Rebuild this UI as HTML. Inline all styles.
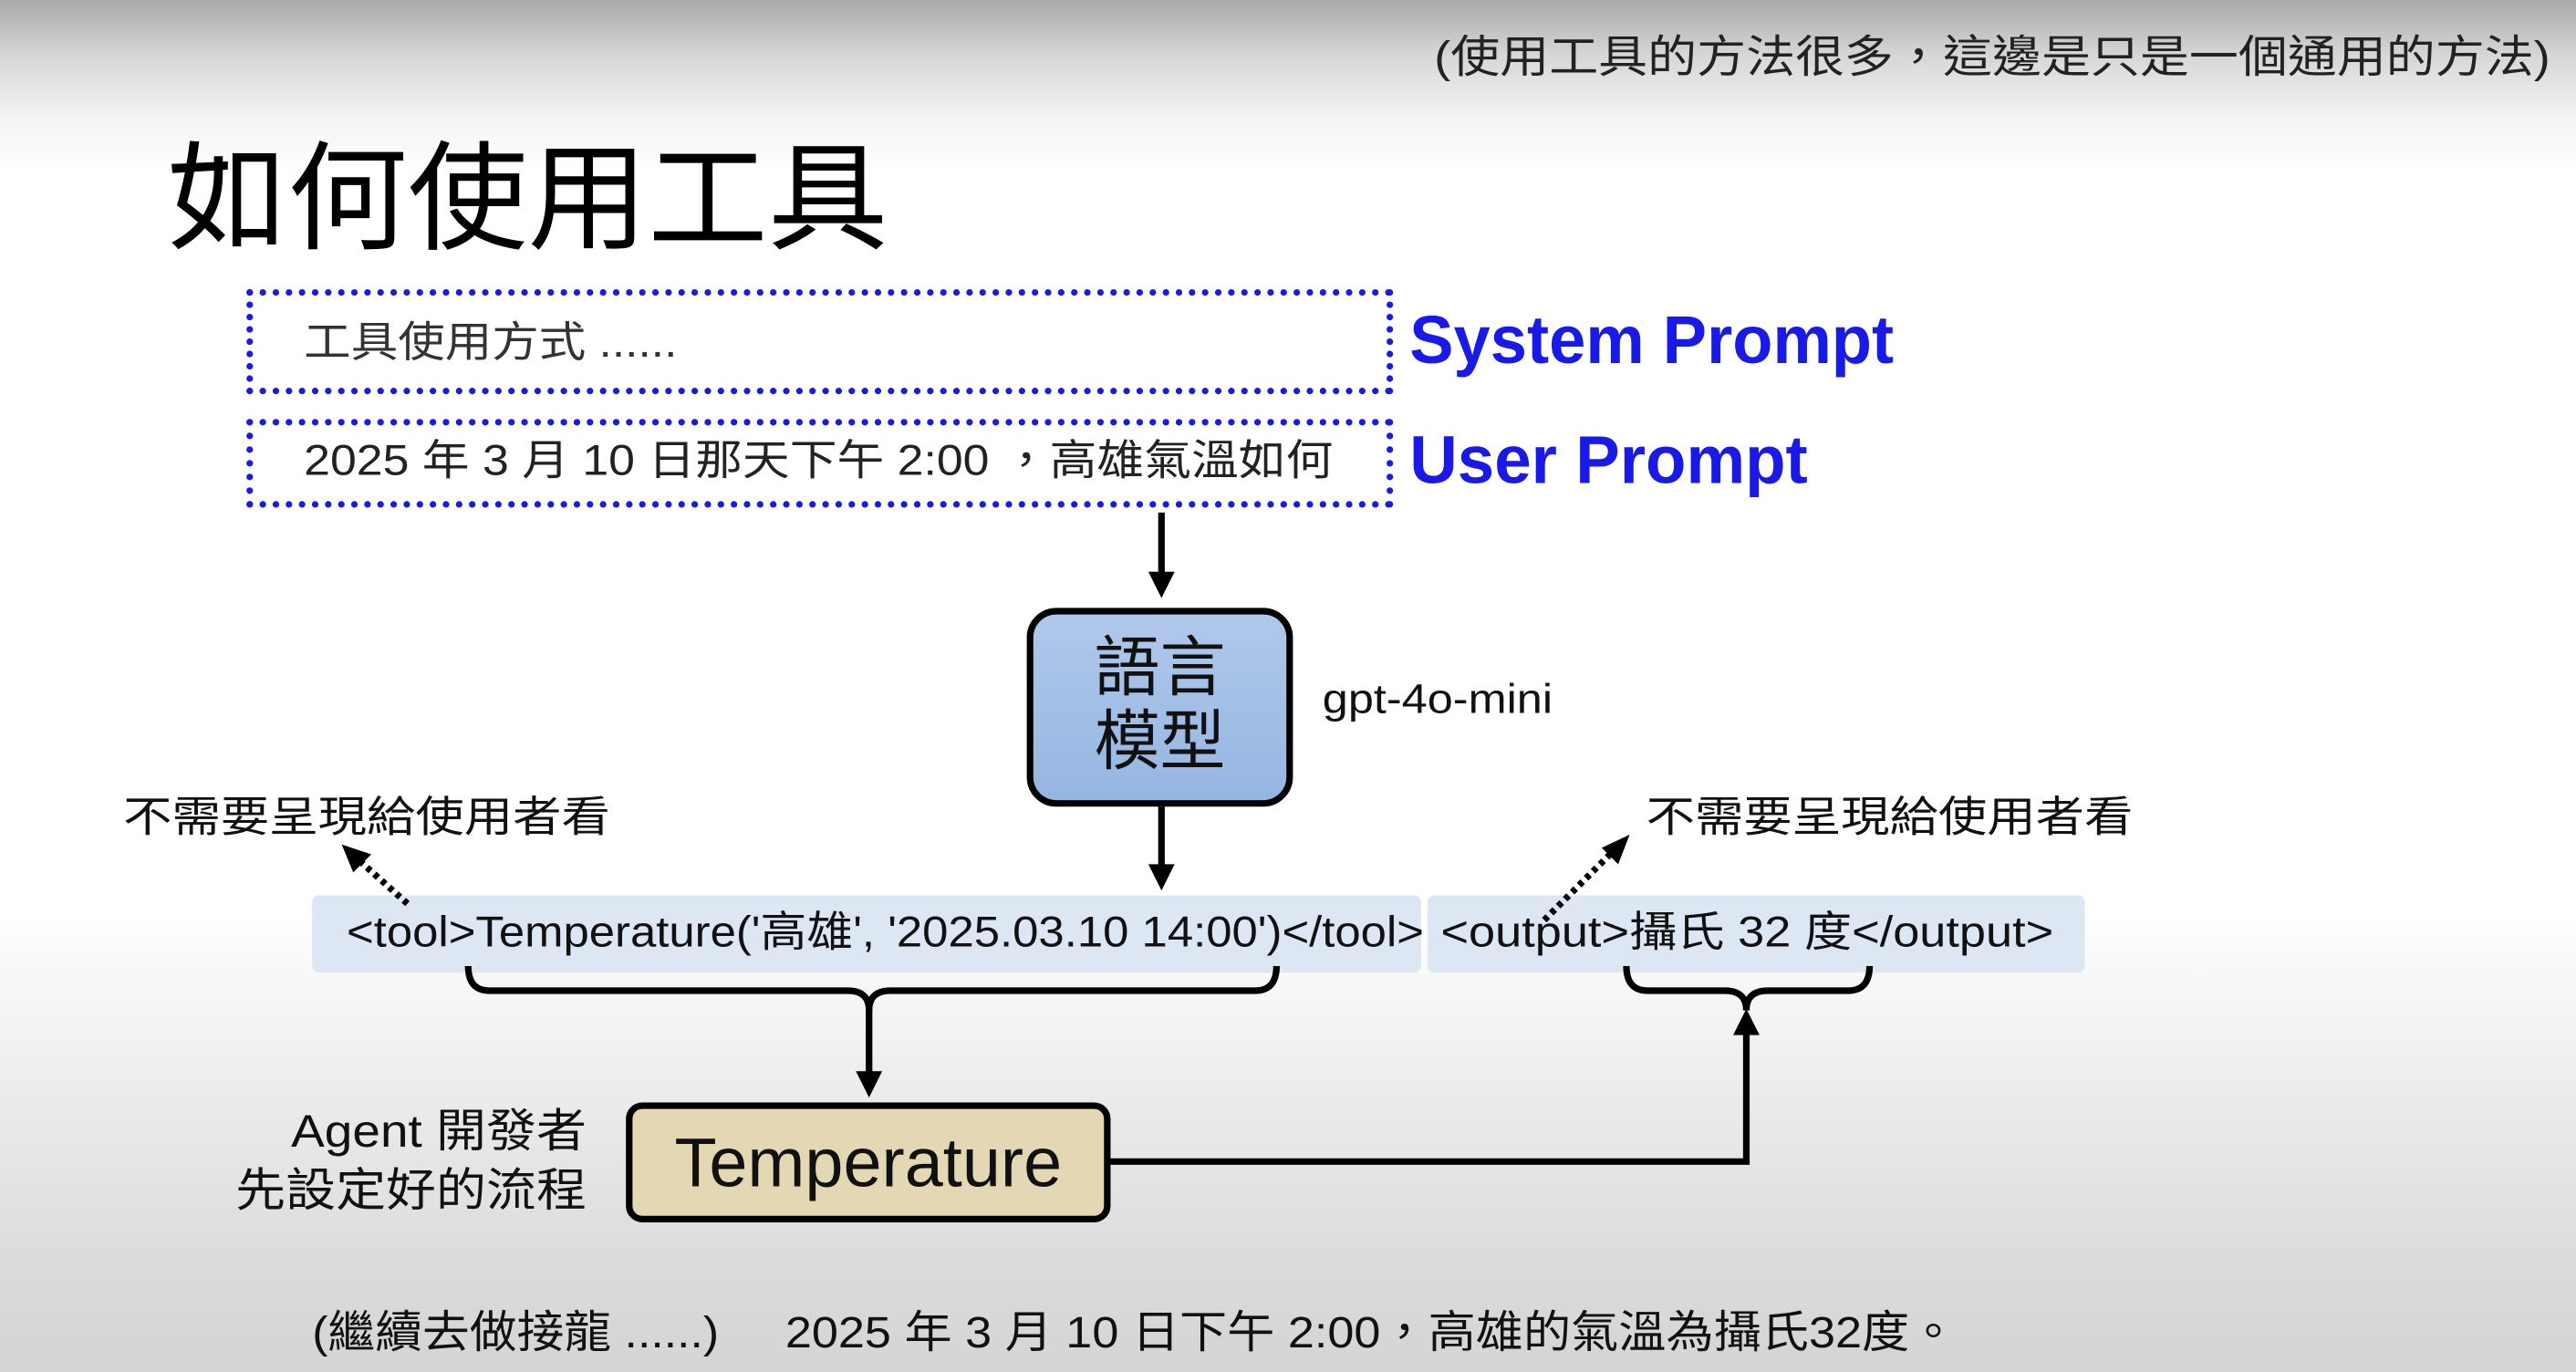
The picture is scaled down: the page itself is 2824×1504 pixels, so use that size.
<!DOCTYPE html>
<html><head><meta charset="utf-8"><style>
html,body{margin:0;padding:0;}
body{width:2824px;height:1504px;overflow:hidden;position:relative;
background:linear-gradient(to bottom,#a9a9a9 0px,#d6d6d6 60px,#f4f4f4 130px,#fff 190px,#fff 1000px,#f0f0f0 1150px,#dcdcdc 1380px,#d4d4d4 1504px);}
#s{position:absolute;left:0;top:0;width:1568px;height:835px;transform:scale(1.801);transform-origin:0 0;
font-family:"Liberation Sans","Noto Sans CJK TC",sans-serif;color:#111;}
.t{position:absolute;white-space:nowrap;line-height:1;transform-origin:0 50%;}
.dot{position:absolute;border:4px dotted #1a1ae0;box-sizing:border-box;}
</style></head><body><div id="s">
<div class="t" style="left:873px;top:22px;font-size:27px;color:#222;transform:scaleX(1.11);">(使用工具的方法很多，這邊是只是一個通用的方法)</div>
<div class="t" style="left:102px;top:86px;font-size:72px;color:#000;transform:scaleX(1.015);">如何使用工具</div>

<div class="dot" style="left:150px;top:176px;width:698px;height:64px;"></div>
<div class="t" style="left:185px;top:195px;font-size:26px;color:#333;transform:scaleX(1.1);">工具使用方式 ......</div>
<div class="t" style="left:858px;top:187px;font-size:41px;font-weight:bold;color:#1a1ae6;transform:scaleX(0.98);">System Prompt</div>

<div class="dot" style="left:150px;top:255px;width:698px;height:54px;"></div>
<div class="t" style="left:185px;top:267px;font-size:26px;color:#222;transform:scaleX(1.106);">2025 年 3 月 10 日那天下午 2:00 ，高雄氣溫如何</div>
<div class="t" style="left:858px;top:260px;font-size:41px;font-weight:bold;color:#1a1ae6;transform:scaleX(0.985);">User Prompt</div>

<div style="position:absolute;left:625px;top:370px;width:162px;height:121px;box-sizing:border-box;border:4px solid #000;border-radius:18px;background:linear-gradient(#b0c8ea,#95b6e2);"></div>
<div class="t" style="left:625px;top:385px;width:162px;text-align:center;font-size:40px;line-height:45px;">語言<br>模型</div>
<div class="t" style="left:805px;top:414px;font-size:25px;transform:scaleX(1.12);">gpt-4o-mini</div>

<div class="t" style="left:75px;top:484px;font-size:26px;transform:scaleX(1.14);">不需要呈現給使用者看</div>
<div class="t" style="left:1002px;top:484px;font-size:26px;transform:scaleX(1.14);">不需要呈現給使用者看</div>

<div style="position:absolute;left:190px;top:545px;width:675px;height:47px;background:#dde6f3;border-radius:4px;"></div>
<div style="position:absolute;left:869px;top:545px;width:400px;height:47px;background:#dde6f3;border-radius:4px;"></div>
<div class="t" style="left:211px;top:554px;font-size:26px;transform:scaleX(1.086);">&lt;tool&gt;Temperature('高雄', '2025.03.10 14:00')&lt;/tool&gt;</div>
<div class="t" style="left:877px;top:554px;font-size:26px;transform:scaleX(1.117);">&lt;output&gt;攝氏 32 度&lt;/output&gt;</div>

<div style="position:absolute;left:381px;top:671px;width:295px;height:73px;box-sizing:border-box;border:4px solid #000;border-radius:10px;background:#e3d7b4;"></div>
<div class="t" style="left:381px;top:687px;width:295px;text-align:center;font-size:42px;">Temperature</div>
<div class="t" style="left:100px;top:671px;width:257px;text-align:right;font-size:28px;line-height:36px;transform-origin:100% 50%;transform:scaleX(1.09);">Agent 開發者<br>先設定好的流程</div>

<div class="t" style="left:190px;top:798px;font-size:27px;transform:scaleX(1.065);">(繼續去做接龍 ......)</div>
<div class="t" style="left:478px;top:798px;font-size:27px;transform:scaleX(1.073);">2025 年 3 月 10 日下午 2:00，高雄的氣溫為攝氏32度。</div>

<svg width="1568" height="835" style="position:absolute;left:0;top:0;" xmlns="http://www.w3.org/2000/svg">
<g stroke="#000" stroke-width="4" fill="none">
<line x1="707" y1="312" x2="707" y2="350"/>
<line x1="707" y1="491" x2="707" y2="528"/>
<path d="M285 588 Q285 603 298 603 L516 603 Q529 603 529 615 Q529 603 542 603 L764 603 Q777 603 777 588"/>
<line x1="529" y1="612" x2="529" y2="654"/>
<path d="M990 588 Q990 603 1003 603 L1050 603 Q1063 603 1063 615 Q1063 603 1076 603 L1125 603 Q1138 603 1138 588"/>
<polyline points="676,707 1063,707 1063,628"/>
<line x1="248" y1="550" x2="220" y2="525" stroke-dasharray="3 3"/>
<line x1="940" y1="560" x2="980" y2="520" stroke-dasharray="3 3"/>
</g>
<g fill="#000">
<polygon points="699,348 715,348 707,364"/>
<polygon points="699,526 715,526 707,542"/>
<polygon points="521,652 537,652 529,668"/>
<polygon points="1055,630 1071,630 1063,614"/>
<polygon points="208,514 226,520 215,531"/>
<polygon points="992,508 985,526 975,516"/>
</g>
</svg>
</div></body></html>
